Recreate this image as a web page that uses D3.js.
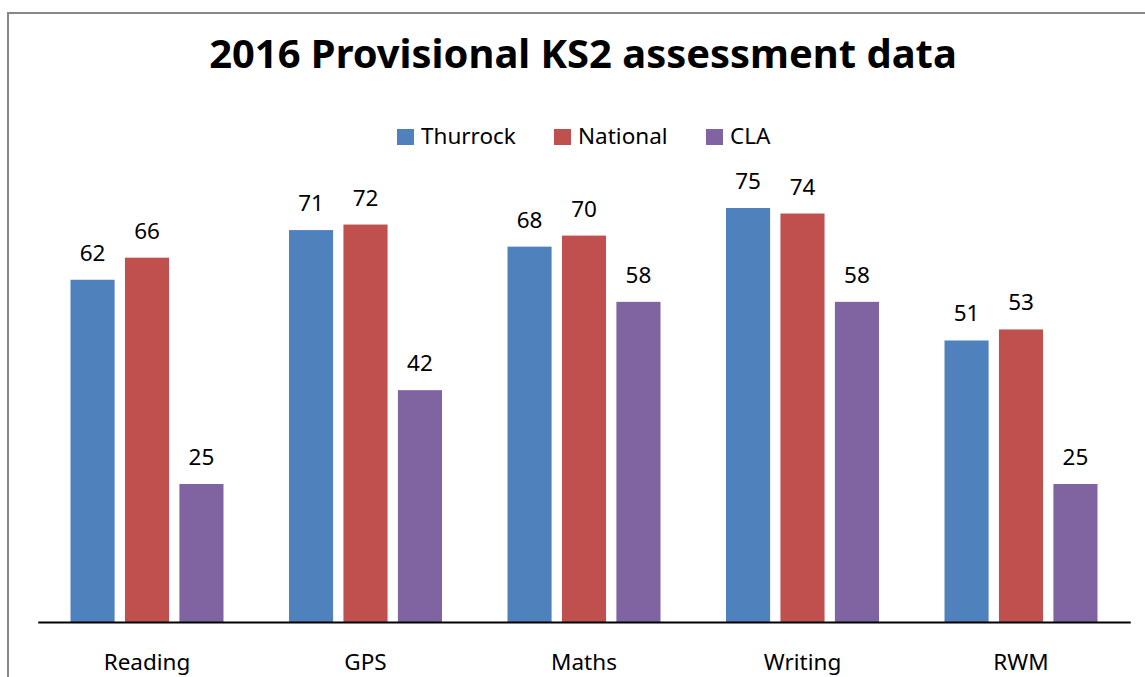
<!DOCTYPE html>
<html><head><meta charset="utf-8">
<script src="https://cdn.jsdelivr.net/npm/d3@7"></script>
<style>html,body{margin:0;padding:0;background:#fff;overflow:hidden}</style>
</head><body>
<svg id="chart" width="1145" height="677"></svg>
<script>
const categories = ["Reading", "GPS", "Maths", "Writing", "RWM"];
const seriesNames = ["Thurrock", "National", "CLA"];
const thurrock = [62, 71, 68, 75, 51];
const national = [66, 72, 70, 74, 53];
const cla = [25, 42, 58, 58, 25];
const seriesValues = [thurrock, national, cla];
const colors = ["#4F81BD", "#C0504D", "#8064A2"];
const titleText = "2016 Provisional KS2 assessment data";

const FONT = "'Noto Sans', 'Open Sans', sans-serif";
const svg = d3.select("#chart");

// chart border (left/top visible)
svg.append("path").attr("d", "M8,677 L8,13 L1145,13")
  .attr("fill", "none").attr("stroke", "#888").attr("stroke-width", 2);

const x0 = d3.scaleBand().domain(categories).range([37.75, 1130.25]).paddingInner(0).paddingOuter(0);
const x1 = d3.scaleBand().domain(seriesNames).range([32.75, x0.bandwidth() - 32.75]).paddingInner(0.19).paddingOuter(0);
const y = d3.scaleLinear().domain([0, 80]).range([622, 180.4]);

// title (font size fitted to the reference width)
const title = svg.append("text").attr("x", 583).attr("y", 68)
  .attr("text-anchor", "middle").attr("font-family", FONT).attr("font-weight", "bold")
  .attr("font-size", 36).attr("fill", "#000").text(titleText);
const tw = title.node().getComputedTextLength();
title.attr("font-size", 36 * 748 / tw);

// legend
const legendX = [397, 554, 706];
const lg = svg.append("g");
seriesNames.forEach((s, i) => {
  lg.append("rect").attr("x", legendX[i]).attr("y", 129).attr("width", 17).attr("height", 16).attr("fill", colors[i]);
  lg.append("text").attr("x", legendX[i] + 24).attr("y", 144).attr("font-family", FONT)
    .attr("font-size", 22.5).attr("fill", "#000").text(s);
});

// bars
const data = categories.map((c, ci) => ({ c, vals: seriesNames.map((s, si) => ({ s, si, v: seriesValues[si][ci] })) }));
const groups = svg.append("g").selectAll("g").data(data).join("g")
  .attr("transform", d => `translate(${x0(d.c)},0)`);
groups.selectAll("rect").data(d => d.vals).join("rect")
  .attr("x", d => x1(d.s)).attr("width", x1.bandwidth())
  .attr("y", d => y(d.v)).attr("height", d => y(0) - y(d.v))
  .attr("fill", d => colors[d.si]);
groups.selectAll("text").data(d => d.vals).join("text")
  .attr("x", d => x1(d.s) + x1.bandwidth() / 2).attr("y", d => y(d.v) - 19)
  .attr("text-anchor", "middle").attr("font-family", FONT).attr("font-size", 22.5)
  .attr("fill", "#000").text(d => d.v);

// x axis
const xAxis = svg.append("g").attr("transform", `translate(0,${y(0)})`)
  .call(d3.axisBottom(x0).tickSize(0).tickPadding(30));
xAxis.select(".domain").attr("stroke", "#000").attr("stroke-width", 2);
xAxis.selectAll("text").attr("font-family", FONT).attr("font-size", 22.5).attr("fill", "#000")
  .attr("dy", "0.71em").attr("y", 32);
</script>
</body></html>
